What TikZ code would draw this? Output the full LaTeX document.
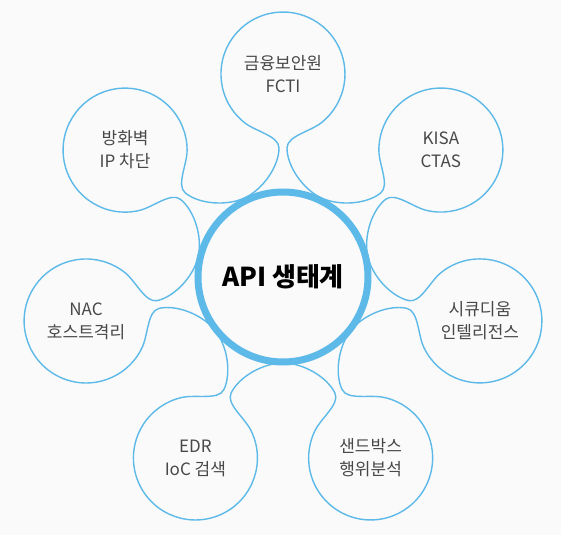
\documentclass[tikz,border=0pt]{standalone}
\usepackage{fontspec}
\setmainfont{Noto Sans CJK KR}
\definecolor{petalblue}{RGB}{92,185,232}
\definecolor{labelgray}{RGB}{72,72,72}
\definecolor{bggray}{RGB}{250,250,250}

\tikzset{
  petal/.style={draw=petalblue, line width=1.4pt},
  hub/.style={circle, draw=petalblue, line width=7pt, fill=bggray, minimum size=170pt, inner sep=0pt},
  itemtext/.style={align=center, text=labelgray, font=\fontsize{17}{23}\selectfont}
}

\begin{document}
\begin{tikzpicture}[x=1pt, y=1pt]
    % Background
    \fill[bggray] (-283,-259) rectangle (278,276);
    \useasboundingbox (-283,-259) rectangle (278,276);

    % Petals with necks
    \foreach \ang/\name/\txt in {90/fcti/{금융보안원\\FCTI}, 38.57/kisa/{KISA\\CTAS},
        -12.86/sicu/{시큐디움\\인텔리전스}, -64.29/sandbox/{샌드박스\\행위분석},
        -115.71/edr/{EDR\\IoC 검색}, -167.14/nac/{NAC\\호스트격리},
        141.43/firewall/{방화벽\\IP 차단}} {
      \begin{scope}[rotate=\ang-90]
        \draw[petal] (-37.7,78.4) .. controls (-19.7,87.1) and (-4,110) .. (-4,128)
          .. controls (-4,140) and (-27.2,144.5) .. (-38.2,153.1)
          arc[start angle=232, end angle=-52, radius=62]
          .. controls (27.2,144.5) and (4,140) .. (4,128)
          .. controls (4,110) and (19.7,87.1) .. (37.7,78.4);
      \end{scope}
      \node[itemtext] (\name) at (\ang:202) {\txt};
    }

    % Hub
    \node[hub, font=\fontsize{26}{30}\selectfont\bfseries] (hub) at (0,-1) {API 생태계};
\end{tikzpicture}
\end{document}
